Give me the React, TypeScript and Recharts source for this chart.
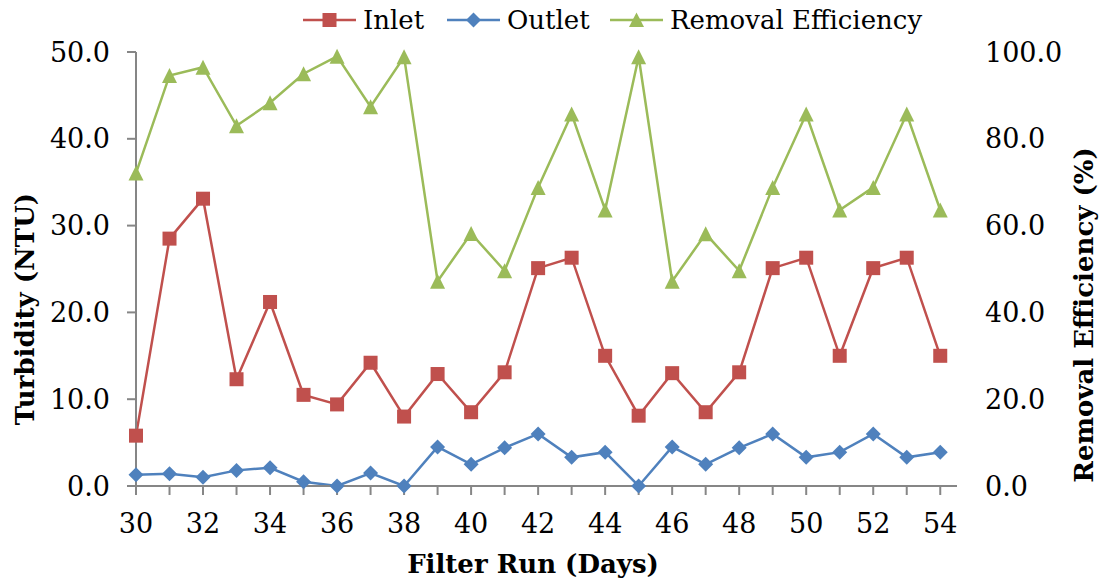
import React from 'react';
import { LineChart, Line, XAxis, YAxis, Legend } from 'recharts';

// Filter run days
const days = [30, 31, 32, 33, 34, 35, 36, 37, 38, 39, 40, 41, 42, 43, 44, 45, 46, 47, 48, 49, 50, 51, 52, 53, 54];
// Turbidity at the inlet (NTU)
const inlet = [5.8, 28.5, 33.1, 12.3, 21.2, 10.5, 9.4, 14.2, 8.0, 12.9, 8.5, 13.1, 25.1, 26.3, 15.0, 8.1, 13.0, 8.5, 13.1, 25.1, 26.3, 15.0, 25.1, 26.3, 15.0];
// Turbidity at the outlet (NTU)
const outlet = [1.3, 1.4, 1.0, 1.8, 2.1, 0.5, 0.0, 1.5, 0.0, 4.5, 2.5, 4.4, 6.0, 3.3, 3.9, 0.0, 4.5, 2.5, 4.4, 6.0, 3.3, 3.9, 6.0, 3.3, 3.9];
// Removal efficiency (%)
const removal = [72.1, 94.6, 96.5, 83.0, 88.3, 95.0, 99.0, 87.4, 98.9, 47.2, 58.2, 49.6, 68.8, 85.7, 63.6, 98.9, 47.2, 58.1, 49.6, 68.8, 85.7, 63.6, 68.8, 85.7, 63.6];

const xTicks = days;
const leftTicks = [0, 10, 20, 30, 40, 50];
const rightTicks = [0, 20, 40, 60, 80, 100];

const data = days.map((d, i) => ({ day: d, inlet: inlet[i], outlet: outlet[i], removal: removal[i] }));

const RED = '#C0504D';
const BLUE = '#4F81BD';
const GREEN = '#9BBB59';
const AXIS = '#868686';
const FONT = "'DejaVu Serif', serif";

const Square = (props: any) => {
  const { cx, cy, key } = props;
  if (cx == null || cy == null) return null;
  return <rect key={key} x={cx - 7} y={cy - 7} width={14} height={14} fill={RED} />;
};

const Diamond = (props: any) => {
  const { cx, cy, key } = props;
  if (cx == null || cy == null) return null;
  const r = 7.5;
  return <polygon key={key} points={`${cx},${cy - r} ${cx + r},${cy} ${cx},${cy + r} ${cx - r},${cy}`} fill={BLUE} />;
};

const Triangle = (props: any) => {
  const { cx, cy, key } = props;
  if (cx == null || cy == null) return null;
  const r = 7.5;
  return <polygon key={key} points={`${cx},${cy - r} ${cx + r},${cy + r} ${cx - r},${cy + r}`} fill={GREEN} />;
};

// legend entries, each placed at its own x offset within the legend row
const legendItems = [
  { name: 'Inlet', color: RED, shape: 'square', left: 0 },
  { name: 'Outlet', color: BLUE, shape: 'diamond', left: 144 },
  { name: 'Removal Efficiency', color: GREEN, shape: 'triangle', left: 307 },
];

const LegendIcon = ({ color, shape }: { color: string; shape: string }) => (
  <svg width={53} height={20} style={{ display: 'block' }}>
    <line x1={0} y1={10} x2={53} y2={10} stroke={color} strokeWidth={2.5} />
    {shape === 'square' && <rect x={19.5} y={3} width={14} height={14} fill={color} />}
    {shape === 'diamond' && <polygon points="26.5,2.5 34,10 26.5,17.5 19,10" fill={color} />}
    {shape === 'triangle' && <polygon points="26.5,2.5 34,17 19,17" fill={color} />}
  </svg>
);

const renderLegend = () => (
  <div style={{ position: 'relative', height: 40, fontFamily: FONT, fontSize: 26, color: '#000', lineHeight: '40px' }}>
    {legendItems.map((it) => (
      <div key={it.name} style={{ position: 'absolute', left: it.left, top: 0, display: 'flex', alignItems: 'center', whiteSpace: 'nowrap' }}>
        <LegendIcon color={it.color} shape={it.shape} />
        <span style={{ marginLeft: 7 }}>{it.name}</span>
      </div>
    ))}
  </div>
);

const titleStyle = { fontFamily: FONT, fontSize: 26, fontWeight: 700, fill: '#000' } as const;
const tickStyle = { fontFamily: FONT, fontSize: 27, fill: '#000' };

export default function App() {
  return (
    <div style={{ position: 'absolute', left: 0, top: 0, width: 1105, height: 583, background: '#fff' }}>
      <LineChart width={1105} height={583} data={data} margin={{ top: 52, right: 0, bottom: 0, left: 0 }}>
        <XAxis
          dataKey="day"
          type="number"
          domain={[30, 54.5]}
          ticks={xTicks}
          interval={0}
          height={97}
          tickSize={9}
          tickMargin={19}
          stroke={AXIS}
          axisLine={{ stroke: AXIS, strokeWidth: 2 }}
          tickLine={{ stroke: AXIS, strokeWidth: 2 }}
          tick={tickStyle}
          tickFormatter={(v: number) => (v % 2 === 0 ? String(v) : '')}
          label={{
            content: () => (
              <text x={533} y={573} textAnchor="middle" style={titleStyle}>
                Filter Run (Days)
              </text>
            ),
          }}
        />
        <YAxis
          yAxisId="left"
          orientation="left"
          domain={[0, 50]}
          ticks={leftTicks}
          width={136}
          tickSize={9}
          tickMargin={17}
          axisLine={{ stroke: AXIS, strokeWidth: 2 }}
          tickLine={{ stroke: AXIS, strokeWidth: 2 }}
          tick={tickStyle}
          tickFormatter={(v: number) => v.toFixed(1)}
          label={{
            content: () => (
              <text x={34} y={309} textAnchor="middle" transform="rotate(-90 34 309)" style={titleStyle}>
                Turbidity (NTU)
              </text>
            ),
          }}
        />
        <YAxis
          yAxisId="right"
          orientation="right"
          domain={[0, 100]}
          ticks={rightTicks}
          width={148}
          tickSize={9}
          tickMargin={19}
          axisLine={false}
          tickLine={false}
          tick={{ ...tickStyle, textAnchor: 'start' }}
          tickFormatter={(v: number) => v.toFixed(1)}
          label={{
            content: () => (
              <text x={1093} y={315} textAnchor="middle" transform="rotate(-90 1093 315)" style={titleStyle}>
                Removal Efficiency (%)
              </text>
            ),
          }}
        />
        <Legend
          layout="horizontal"
          verticalAlign="middle"
          align="center"
          content={renderLegend}
          wrapperStyle={{ top: 0, left: 303, width: 780, height: 40 }}
        />
        <Line yAxisId="left" dataKey="inlet" name="Inlet" stroke={RED} strokeWidth={2.5} dot={Square} activeDot={false} isAnimationActive={false} />
        <Line yAxisId="left" dataKey="outlet" name="Outlet" stroke={BLUE} strokeWidth={2.5} dot={Diamond} activeDot={false} isAnimationActive={false} />
        <Line yAxisId="right" dataKey="removal" name="Removal Efficiency" stroke={GREEN} strokeWidth={2.5} dot={Triangle} activeDot={false} isAnimationActive={false} />
      </LineChart>
    </div>
  );
}
